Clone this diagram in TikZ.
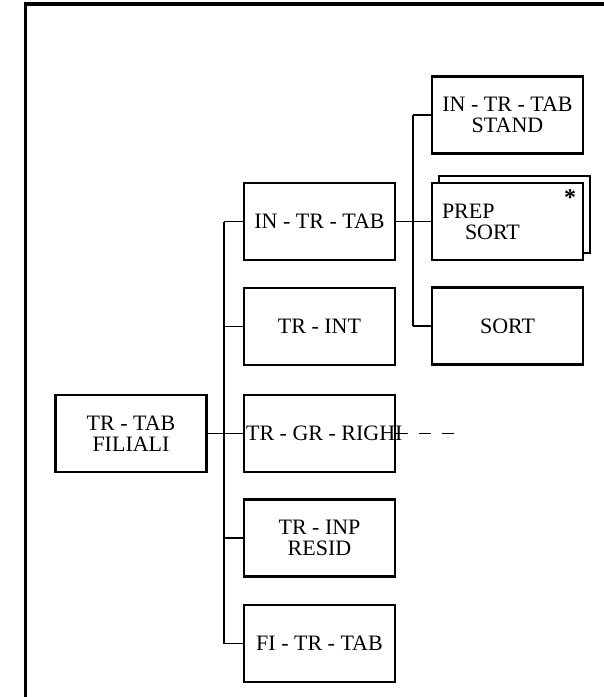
\documentclass[tikz,border=0pt]{standalone}
\usepackage{fontspec}
\setmainfont{Liberation Serif}
\usetikzlibrary{positioning,calc}

\begin{document}
\begin{tikzpicture}[x=0.5pt, y=-0.5pt,
  font=\fontsize{11}{10.4}\selectfont,
  box/.style={draw, line width=1.3pt, fill=white, minimum width=75.5pt, minimum height=38.5pt, align=center, inner sep=2pt},
  lbox/.style={box, text width=65.5pt, inner xsep=5pt, inner ysep=0pt, align=left},
  link/.style={line width=0.8pt},
  frame/.style={line width=1.6pt},
]
\useasboundingbox (0,0) rectangle (604,697);
% frame
\draw[frame] (604,4) -- (25.5,4) -- (25.5,697);
% ---- root ----
\node[box] (filiali) at (131,433.5) {TR - TAB\\FILIALI};
% ---- second level ----
\node[box] (intrtab) at (319.5,221.5) {IN - TR - TAB};
\node[box] (trint) at (319.5,326.5) {TR - INT};
\node[box] (righi) at (319.5,433.5) {};
\node[anchor=west, inner sep=0pt] (righiT) at ([xshift=1.5pt]righi.west) {TR - GR - RIGHI};
\node[box] (trinp) at (319.5,538) {TR - INP\\RESID};
\node[box] (fitrtab) at (319.5,643.5) {FI - TR - TAB};
% ---- third level ----
\node[box] (stand) at (507.5,115) {IN - TR - TAB\\STAND};
\node[box] (prepB) at (514.5,214.5) {};
\node[lbox] (prep) at (507.5,221.5) {\rule{0pt}{8pt}PREP\\\hspace*{11.5pt}SORT};
\node[anchor=north, inner sep=0pt, font=\fontsize{12}{12}\bfseries] (star) at (570,189) {*};
\node[box] (sort) at (507.5,326) {SORT};
% ---- connectors ----
\coordinate (trunkA) at (224,0);
\coordinate (trunkB) at (413,0);
\coordinate (dashend) at (457,433.5);
\draw[link] (filiali.east) -- (righi.west);
\draw[link] (intrtab.west -| trunkA) -- (fitrtab.west -| trunkA);
\foreach \n in {intrtab,trint,trinp,fitrtab}
  \draw[link] (\n.west) -- (\n.west -| trunkA);
\draw[link] (intrtab.east) -- (prep.west);
\draw[link] (stand.west -| trunkB) -- (sort.west -| trunkB);
\foreach \n in {stand,sort}
  \draw[link] (\n.west) -- (\n.west -| trunkB);
\draw[link, dash pattern=on 6pt off 5.5pt] (righi.east) -- (dashend);
\end{tikzpicture}
\end{document}
